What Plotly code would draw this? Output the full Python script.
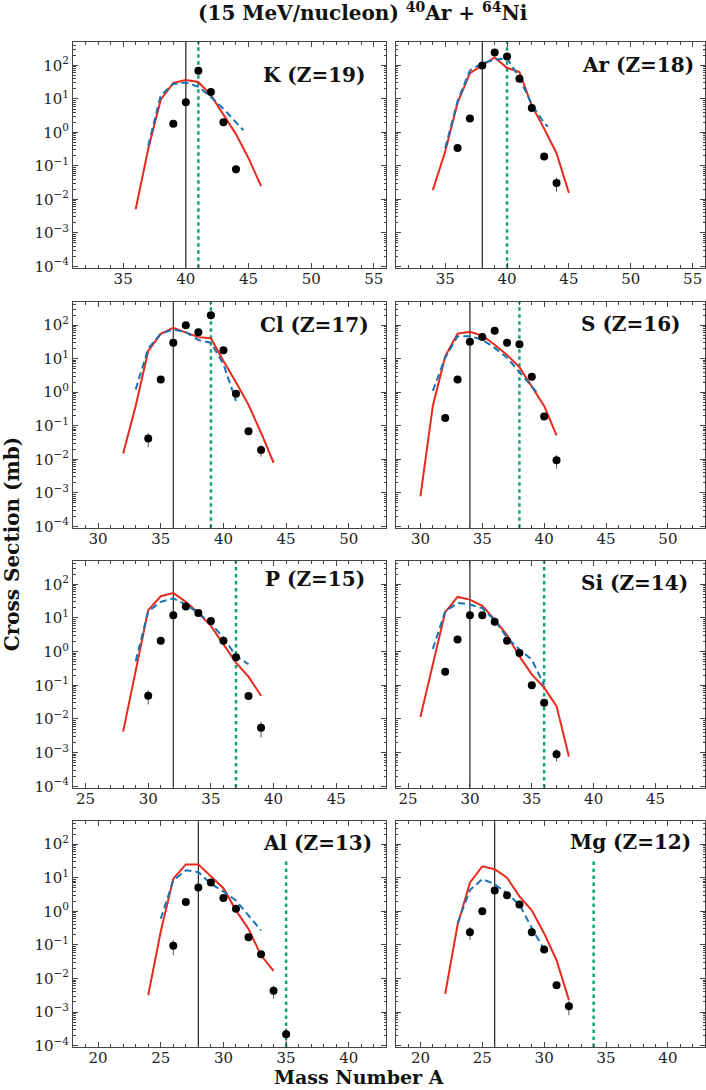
import plotly.graph_objects as go
from plotly.subplots import make_subplots

# ---- data: measured cross sections (mb), red = model 1, blue dashed = model 2 ----
K_A = [39, 40, 41, 42, 43, 44]
K_sig = [1.8, 8.0, 69, 16, 2.0, 0.079]
K_err = [0, 0, 0, 0, 0, 0.02]
K_red_A = [36, 37, 38, 39, 40, 41, 42, 43, 44, 45, 46]
K_red = [0.0051, 0.32, 9.5, 30, 37, 32, 13, 3.3, 0.89, 0.17, 0.025]
K_blue_A = [37, 38, 39, 40, 41, 42, 43, 44, 44.6]
K_blue = [0.4, 12.6, 28, 31, 23, 11.5, 5.1, 2.0, 1.15]

Ar_A = [36, 37, 38, 39, 40, 41, 42, 43, 44]
Ar_sig = [0.34, 2.6, 100, 245, 185, 40, 5.4, 0.19, 0.031]
Ar_err = [0, 0, 0, 0, 0, 0, 0, 0, 0.014]
Ar_red_A = [34, 35, 36, 37, 38, 39, 40, 41, 42, 43, 44, 45]
Ar_red = [0.019, 0.27, 7.6, 59, 100, 174, 85, 63, 6.3, 1.3, 0.24, 0.0155]
Ar_blue_A = [35, 36, 37, 38, 39, 40, 41, 42, 43, 43.3]
Ar_blue = [0.34, 8.5, 71, 117, 148, 166, 42, 6.8, 1.9, 1.5]

Cl_A = [34, 35, 36, 37, 38, 39, 40, 41, 42, 43]
Cl_sig = [0.042, 2.4, 30, 100, 62, 198, 18, 0.9, 0.069, 0.019]
Cl_err = [0.019, 0, 0, 0, 0, 0, 0, 0, 0, 0.007]
Cl_red_A = [32, 33, 34, 35, 36, 37, 38, 39, 40, 41, 42, 43, 44]
Cl_red = [0.015, 0.39, 17, 55, 83, 62, 44, 41, 8.5, 2.0, 0.42, 0.062, 0.0079]
Cl_blue_A = [33, 34, 35, 36, 37, 38, 39, 40, 41]
Cl_blue = [1.2, 20, 56, 74, 62, 36, 30, 6.8, 0.55]

S_A = [32, 33, 34, 35, 36, 37, 38, 39, 40, 41]
S_sig = [0.17, 2.4, 32, 44, 68, 30, 27, 2.9, 0.19, 0.0093]
S_err = [0, 0, 0, 0, 0, 0, 0, 0, 0, 0.004]
S_red_A = [30, 31, 32, 33, 34, 35, 36, 37, 38, 39, 40, 41]
S_red = [0.00078, 0.39, 11.7, 56, 63, 49, 26, 13, 5.6, 1.5, 0.39, 0.052]
S_blue_A = [31, 32, 33, 34, 35, 36, 37, 38, 39, 39.4]
S_blue = [1.1, 10.7, 47, 47, 37, 21, 10.7, 3.9, 1.45, 1.0]

P_A = [30, 31, 32, 33, 34, 35, 36, 37, 38, 39]
P_sig = [0.049, 2.1, 12, 22, 14, 8.1, 2.1, 0.68, 0.048, 0.0055]
P_err = [0.022, 0, 0, 0, 0, 0, 0, 0, 0, 0.0027]
P_red_A = [28, 29, 30, 31, 32, 33, 34, 35, 36, 37, 38, 39]
P_red = [0.0042, 0.27, 17, 44, 55, 30, 14, 5.8, 1.6, 0.47, 0.18, 0.049]
P_blue_A = [29, 30, 31, 32, 33, 34, 35, 36, 37, 38]
P_blue = [0.52, 15.5, 30, 38, 25, 14, 6.9, 2.6, 0.74, 0.42]

Si_A = [28, 29, 30, 31, 32, 33, 34, 35, 36, 37]
Si_sig = [0.25, 2.3, 12, 12, 7.7, 2.1, 0.91, 0.10, 0.030, 0.0009]
Si_err = [0, 0, 0, 0, 0, 0, 0, 0, 0, 0.00035]
Si_red_A = [26, 27, 28, 29, 30, 31, 32, 33, 34, 35, 36, 37, 38]
Si_red = [0.0115, 0.42, 14.8, 42, 35, 23, 8.9, 3.1, 0.72, 0.21, 0.085, 0.024, 0.00076]
Si_blue_A = [27, 28, 29, 30, 31, 32, 33, 34, 35, 36]
Si_blue = [1.2, 15.5, 28, 25, 19.5, 8.5, 2.6, 1.15, 0.58, 0.1]

Al_A = [26, 27, 28, 29, 30, 31, 32, 33, 34, 35]
Al_sig = [0.095, 1.9, 5.1, 7.2, 2.5, 1.2, 0.17, 0.053, 0.0043, 0.00022]
Al_err = [0.046, 0, 0, 0, 0, 0, 0, 0, 0.0018, 0.00012]
Al_red_A = [24, 25, 26, 27, 28, 29, 30, 31, 32, 33, 34]
Al_red = [0.0032, 0.25, 9.3, 25, 25, 11, 4.9, 1.07, 0.30, 0.049, 0.017]
Al_blue_A = [25, 26, 27, 28, 29, 30, 31, 32, 33]
Al_blue = [0.6, 8.3, 16.6, 14.8, 6.6, 3.9, 2.1, 0.76, 0.27]

Mg_A = [24, 25, 26, 27, 28, 29, 30, 31, 32]
Mg_sig = [0.24, 1.0, 4.2, 3.0, 1.6, 0.24, 0.073, 0.0063, 0.0015]
Mg_err = [0.1, 0, 0, 0, 0, 0, 0, 0, 0.0007]
Mg_red_A = [22, 23, 24, 25, 26, 27, 28, 29, 30, 31, 32]
Mg_red = [0.0035, 0.39, 7.1, 22, 18, 10, 2.8, 1.07, 0.22, 0.035, 0.0023]
Mg_blue_A = [23, 24, 25, 26, 27, 28, 29, 30]
Mg_blue = [0.44, 4.3, 9.1, 6.5, 3.4, 1.6, 0.32, 0.072]

labels = ["K (Z=19)", "Ar (Z=18)", "Cl (Z=17)", "S (Z=16)",
          "P (Z=15)", "Si (Z=14)", "Al (Z=13)", "Mg (Z=12)"]
black_A = [40, 38, 36, 34, 32, 30, 28, 26]
green_A = [41, 40, 39, 38, 37, 36, 35, 34]
row_xrange = [[31, 56], [28, 53], [24, 49], [18, 43]]

# ---- style ----
RED = "#e8291c"
BLUE = "#1773b3"
GREEN = "#12a27a"
FRAME = "#444444"
FONT = "DejaVu Serif"

col_dom = [[0.0, 0.4959], [0.5106, 1.0]]
row_dom = [[0.7754, 1.0], [0.5167, 0.7416], [0.2581, 0.4839], [0.0, 0.2252]]
label_pos = [(0.938, 0.855), (0.972, 0.899), (0.950, 0.897), (0.930, 0.90),
             (0.938, 0.919), (0.950, 0.903), (0.960, 0.901), (0.960, 0.906)]
green_top = [1, 1, 1, 1, 1, 1, 0.83, 0.83]

panels = [
    (K_A, K_sig, K_err, K_red_A, K_red, K_blue_A, K_blue),
    (Ar_A, Ar_sig, Ar_err, Ar_red_A, Ar_red, Ar_blue_A, Ar_blue),
    (Cl_A, Cl_sig, Cl_err, Cl_red_A, Cl_red, Cl_blue_A, Cl_blue),
    (S_A, S_sig, S_err, S_red_A, S_red, S_blue_A, S_blue),
    (P_A, P_sig, P_err, P_red_A, P_red, P_blue_A, P_blue),
    (Si_A, Si_sig, Si_err, Si_red_A, Si_red, Si_blue_A, Si_blue),
    (Al_A, Al_sig, Al_err, Al_red_A, Al_red, Al_blue_A, Al_blue),
    (Mg_A, Mg_sig, Mg_err, Mg_red_A, Mg_red, Mg_blue_A, Mg_blue),
]

y_tickvals = [1e-4, 1e-3, 1e-2, 1e-1, 1, 10, 100]
y_ticktext = ["10<sup>\u22124</sup>", "10<sup>\u22123</sup>", "10<sup>\u22122</sup>",
              "10<sup>\u22121</sup>", "10<sup>0</sup>", "10<sup>1</sup>", "10<sup>2</sup>"]
y_minor = [m * 10.0 ** e for e in range(-4, 3) for m in range(2, 10)]

fig = make_subplots(rows=4, cols=2)

for i, (A, sig, err, rA, red, bA, blue) in enumerate(panels):
    row, col = i // 2 + 1, i % 2 + 1
    fig.add_trace(go.Scatter(
        x=rA, y=red, mode="lines",
        line=dict(color=RED, width=2),
        showlegend=False, hoverinfo="skip",
    ), row=row, col=col)
    fig.add_trace(go.Scatter(
        x=bA, y=blue, mode="lines",
        line=dict(color=BLUE, width=2, dash="7px,4px"),
        showlegend=False, hoverinfo="skip",
    ), row=row, col=col)
    fig.add_trace(go.Scatter(
        x=A, y=sig, mode="markers",
        marker=dict(color="black", size=8, line=dict(width=0)),
        error_y=dict(type="data", array=err, symmetric=True,
                     color="#555555", thickness=1, width=0),
        showlegend=False,
    ), row=row, col=col)

    n = "" if i == 0 else str(i + 1)
    xr, yr = f"x{n}", f"y{n}"
    fig.add_shape(type="line", xref=xr, yref=f"{yr} domain",
                  x0=black_A[i], x1=black_A[i], y0=0, y1=1,
                  line=dict(color="#222222", width=1.2), layer="below")
    fig.add_shape(type="line", xref=xr, yref=f"{yr} domain",
                  x0=green_A[i], x1=green_A[i], y0=0, y1=green_top[i],
                  line=dict(color=GREEN, width=2.5, dash="3.5px,3.5px"), layer="below")

    lx, ly = label_pos[i]
    fig.add_annotation(
        text=f"<b>{labels[i]}</b>", xref=f"{xr} domain", yref=f"{yr} domain",
        x=lx, y=ly, xanchor="right", yanchor="middle", showarrow=False,
        font=dict(family=FONT, size=20, color="#111111"),
    )

    fig.update_xaxes(
        domain=col_dom[col - 1], range=row_xrange[row - 1],
        tick0=0, dtick=5, ticks="inside", ticklen=5, tickwidth=1, tickcolor=FRAME,
        minor=dict(dtick=1, ticks="inside", ticklen=3, tickcolor=FRAME, showgrid=False),
        showline=True, linecolor=FRAME, linewidth=1, mirror="ticks",
        showgrid=False, zeroline=False, ticklabelstandoff=-3,
        tickfont=dict(family=FONT, size=15, color="#222222"),
        row=row, col=col,
    )
    fig.update_yaxes(
        type="log", domain=row_dom[row - 1], range=[-4.04, 2.70],
        tickmode="array", tickvals=y_tickvals, ticktext=y_ticktext,
        ticks="inside", ticklen=5, tickwidth=1, tickcolor=FRAME,
        minor=dict(tickmode="array", tickvals=y_minor, ticks="inside",
                   ticklen=2.5, tickcolor=FRAME, showgrid=False),
        showline=True, linecolor=FRAME, linewidth=1, mirror="ticks",
        showgrid=False, zeroline=False, showticklabels=(col == 1),
        tickfont=dict(family=FONT, size=15, color="#222222"),
        row=row, col=col,
    )

fig.add_annotation(
    text="<b>(15 MeV/nucleon) <sup>40</sup>Ar + <sup>64</sup>Ni</b>",
    xref="paper", yref="paper", x=0.459, y=1.03, xanchor="center", yanchor="middle",
    showarrow=False, font=dict(family=FONT, size=20, color="#111111"),
)
fig.add_annotation(
    text="<b>Mass Number A</b>", xref="paper", yref="paper",
    x=0.4525, y=-0.0428, xanchor="center", yanchor="bottom",
    showarrow=False, font=dict(family=FONT, size=19, color="#111111"),
)
fig.add_annotation(
    text="<b>Cross Section (mb)</b>", xref="paper", yref="paper",
    x=-0.097, y=0.5, xanchor="center", yanchor="middle", textangle=-90,
    showarrow=False, font=dict(family=FONT, size=20, color="#111111"),
)

fig.update_layout(
    width=706, height=1090,
    margin=dict(l=73, r=1, t=42, b=43),
    paper_bgcolor="white", plot_bgcolor="white",
    font=dict(family=FONT, color="#222222"),
    showlegend=False,
)

# the page's default body margin would shift the whole figure by 8px
fig.write_html("out.html", config={"displayModeBar": False},
               post_script="document.body.style.margin='0';")
